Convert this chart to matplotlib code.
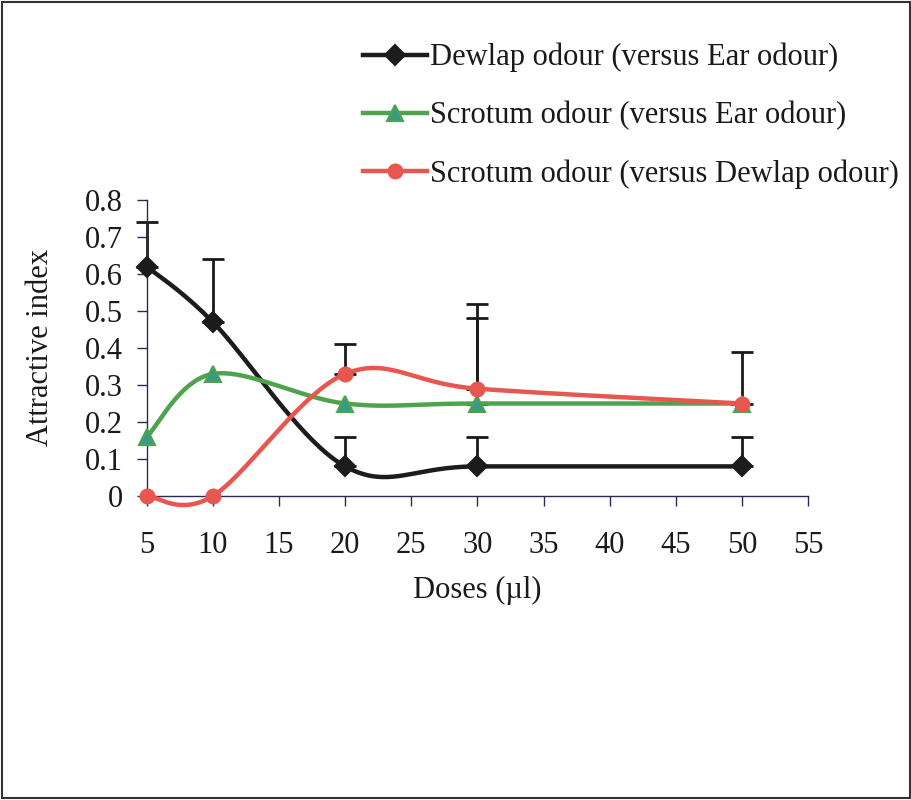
import numpy as np
import matplotlib
matplotlib.use('Agg')
import matplotlib.pyplot as plt
from matplotlib.lines import Line2D
from matplotlib.patches import Rectangle

plt.rcParams['font.family'] = ['Liberation Serif', 'DejaVu Serif']

doses = [5, 10, 20, 30, 50]
dewlap = [0.62, 0.47, 0.08, 0.08, 0.08]
dewlap_err = [0.12, 0.17, 0.08, 0.08, 0.08]
scrotum_ear = [0.16, 0.33, 0.25, 0.25, 0.25]
scrotum_ear_err = [0, 0, 0, 0.23, 0]
scrotum_dew = [0, 0, 0.33, 0.29, 0.25]
scrotum_dew_err = [0, 0, 0.08, 0.23, 0.14]

labels = ['Dewlap odour (versus Ear odour)',
          'Scrotum odour (versus Ear odour)',
          'Scrotum odour (versus Dewlap odour)']


def smooth(x, y, n=40):
    # excel-like smoothed line: cubic bezier with 1/6 control points
    x = np.asarray(x, float)
    y = np.asarray(y, float)
    pts = np.column_stack([x, y])
    out = [pts[0]]
    t = np.linspace(0, 1, n)[1:, None]
    for i in range(len(pts) - 1):
        p0 = pts[i]
        p1 = pts[i + 1]
        pm = pts[i - 1] if i > 0 else pts[i]
        pp = pts[i + 2] if i + 2 < len(pts) else pts[i + 1]
        c1 = p0 + (p1 - pm) / 6
        c2 = p1 - (pp - p0) / 6
        seg = ((1 - t) ** 3) * p0 + 3 * ((1 - t) ** 2) * t * c1 + 3 * (1 - t) * t ** 2 * c2 + t ** 3 * p1
        out.extend(seg)
    out = np.array(out)
    return out[:, 0], out[:, 1]


fig = plt.figure(figsize=(9.12, 8), dpi=100)
ax = fig.add_axes([0.161, 0.38, 0.725, 0.37])

series = [
    (dewlap, dewlap_err, '#1c1c1c', 'D', '#1c1c1c', '#1c1c1c', 10),
    (scrotum_ear, scrotum_ear_err, '#4ea34e', '^', '#3a9a86', '#4ea34e', 12),
    (scrotum_dew, scrotum_dew_err, '#e8574f', 'o', '#e8574f', '#e8574f', 10),
]

handles = []
for (vals, err, col, mk, mfc, mec, ms), lab in zip(series, labels):
    sx, sy = smooth(doses, vals)
    ax.plot(sx, sy, color=col, lw=3.2, zorder=3, solid_capstyle='round', clip_on=False)
    low = np.zeros(len(vals))
    errs = np.array(err)
    mask = errs > 0
    if mask.any():
        eb = ax.errorbar(np.array(doses)[mask], np.array(vals)[mask],
                         yerr=[low[mask], errs[mask]], fmt='none',
                         ecolor='#1a1a1a', elinewidth=2, capsize=8, capthick=2, zorder=2)
        for art in eb.lines[1] + eb.lines[2]:
            art.set_clip_on(False)
    ax.plot(doses, vals, ls='none', marker=mk, ms=ms, mfc=mfc, mec=mec,
            mew=1.5, zorder=4, clip_on=False)
    handles.append(Line2D([], [], color=col, lw=3.2, marker=mk, ms=ms,
                          mfc=mfc, mec=mec, mew=1.5))

ax.set_xlim(5, 55)
ax.set_ylim(0, 0.8)
ax.set_xticks(range(5, 56, 5))
ax.set_yticks(np.arange(0, 0.81, 0.1))
ax.set_yticklabels(['0'] + ['%.1f' % v for v in np.arange(0.1, 0.81, 0.1)])
for s in ['top', 'right']:
    ax.spines[s].set_visible(False)
for s in ['left', 'bottom']:
    ax.spines[s].set_color('#2a2a55')
    ax.spines[s].set_linewidth(1)
ax.tick_params(axis='both', direction='out', length=7, width=1, color='#2a2a55',
               labelsize=22, labelcolor='#1a1a1a')
ax.tick_params(axis='x', pad=18)
ax.tick_params(axis='y', pad=10)
ax.set_xlabel('Doses (µl)', fontsize=22, color='#1a1a1a', labelpad=12)
ax.set_ylabel('Attractive index', fontsize=22, color='#1a1a1a', labelpad=22)

fig.legend(handles=handles, labels=labels, loc='upper left',
           bbox_to_anchor=(0.368, 0.981), frameon=False, fontsize=22,
           handlelength=2.1, handletextpad=0.08, labelspacing=0.95,
           numpoints=1, labelcolor='#1a1a1a')

fig.patches.append(Rectangle((0.002, 0.002), 0.996, 0.996, transform=fig.transFigure,
                             fill=False, edgecolor='#333333', lw=1.5))

fig.savefig('out.png', dpi=100)
